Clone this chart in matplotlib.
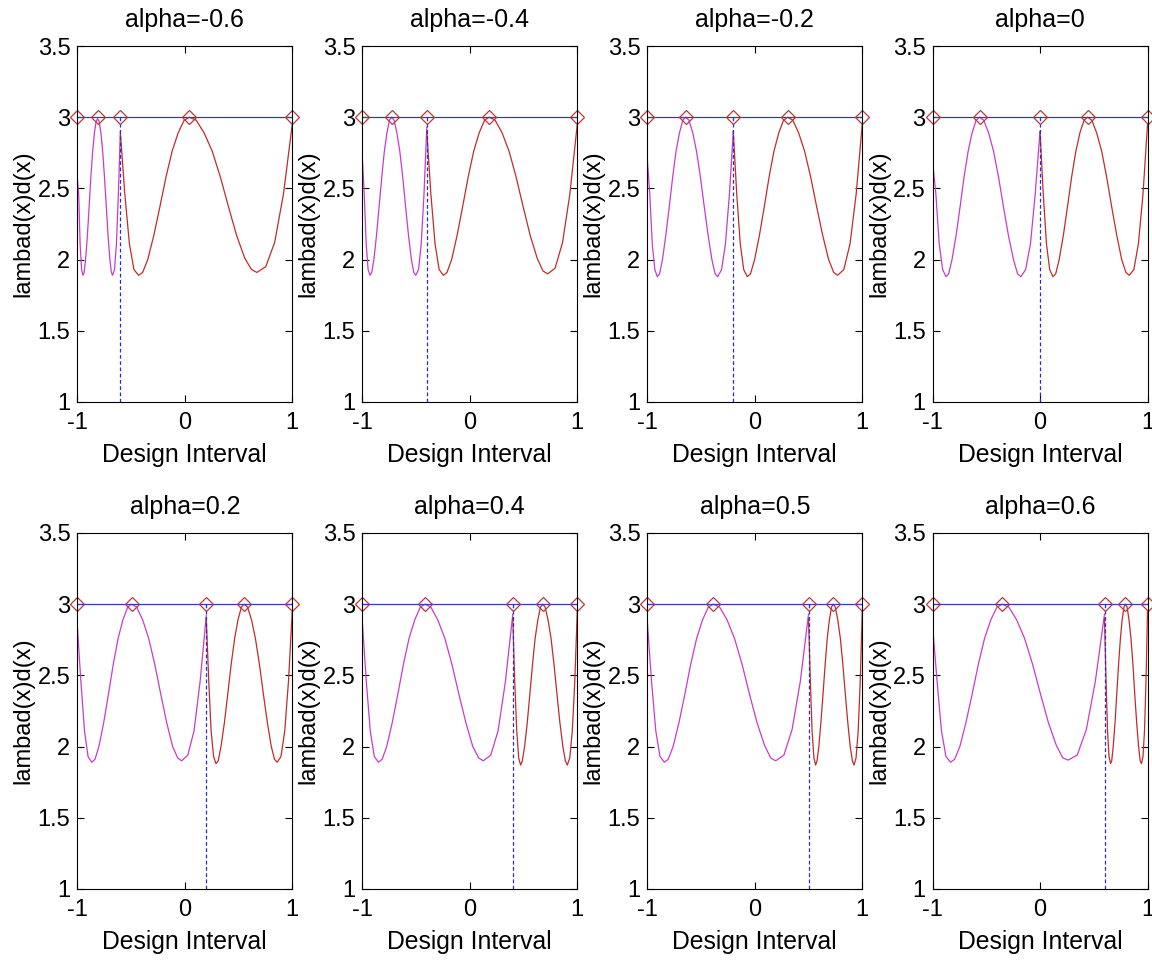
import matplotlib
matplotlib.use("Agg")
import matplotlib.pyplot as plt

plt.rcParams['font.family'] = ['Liberation Sans', 'DejaVu Sans']

# split points for each panel
alphas = [-0.6, -0.4, -0.2, 0, 0.2, 0.4, 0.5, 0.6]
titles = ["alpha=-0.6", "alpha=-0.4", "alpha=-0.2", "alpha=0",
          "alpha=0.2", "alpha=0.4", "alpha=0.5", "alpha=0.6"]

# interior support points of the two designs
left_support = [-0.811, -0.727, -0.643, -0.563, -0.494, -0.417, -0.386, -0.352]
right_support = [0.042, 0.181, 0.306, 0.442, 0.553, 0.678, 0.730, 0.795]

bound_level = 3.0
x_range = [-1, 1]
y_floor = 1.0

# magenta curve (left design on [-1, alpha])
mag_x = [
    [-1, -0.987, -0.974, -0.960, -0.947, -0.936, -0.923, -0.906, -0.890, -0.874, -0.857, -0.841, -0.825, -0.811,
     -0.797, -0.780, -0.764, -0.747, -0.730, -0.714, -0.697, -0.683, -0.672, -0.654, -0.636, -0.618, -0.6],
    [-1, -0.982, -0.964, -0.946, -0.928, -0.912, -0.892, -0.868, -0.844, -0.819, -0.795, -0.771, -0.747, -0.727,
     -0.705, -0.678, -0.651, -0.624, -0.597, -0.570, -0.543, -0.521, -0.503, -0.477, -0.452, -0.426, -0.4],
    [-1, -0.977, -0.954, -0.930, -0.907, -0.886, -0.859, -0.828, -0.796, -0.764, -0.733, -0.701, -0.669, -0.643,
     -0.613, -0.577, -0.542, -0.506, -0.470, -0.434, -0.399, -0.369, -0.345, -0.309, -0.273, -0.236, -0.2],
    [-1, -0.969, -0.938, -0.906, -0.875, -0.850, -0.819, -0.781, -0.744, -0.707, -0.669, -0.632, -0.594, -0.563,
     -0.525, -0.478, -0.432, -0.386, -0.340, -0.294, -0.247, -0.209, -0.178, -0.134, -0.089, -0.045, 0.0],
    [-1, -0.967, -0.933, -0.900, -0.866, -0.836, -0.799, -0.754, -0.710, -0.665, -0.620, -0.576, -0.531, -0.494,
     -0.448, -0.392, -0.336, -0.280, -0.224, -0.169, -0.113, -0.066, -0.029, 0.028, 0.086, 0.143, 0.2],
    [-1, -0.963, -0.926, -0.888, -0.851, -0.816, -0.773, -0.721, -0.669, -0.617, -0.565, -0.512, -0.460, -0.417,
     -0.363, -0.298, -0.232, -0.167, -0.102, -0.037, 0.028, 0.083, 0.126, 0.195, 0.263, 0.332, 0.4],
    [-1, -0.961, -0.921, -0.882, -0.842, -0.806, -0.760, -0.705, -0.650, -0.596, -0.541, -0.486, -0.432, -0.386,
     -0.328, -0.258, -0.189, -0.119, -0.050, 0.020, 0.090, 0.148, 0.194, 0.271, 0.347, 0.424, 0.5],
    [-1, -0.958, -0.917, -0.875, -0.833, -0.795, -0.746, -0.689, -0.631, -0.573, -0.516, -0.458, -0.400, -0.352,
     -0.291, -0.217, -0.144, -0.070, 0.004, 0.077, 0.151, 0.212, 0.261, 0.346, 0.431, 0.515, 0.6],
]
mag_y = [
    [2.57, 2.46, 2.11, 1.93, 1.89, 1.91, 2.00, 2.17, 2.37, 2.58, 2.76, 2.89, 2.97, 2.99,
     2.97, 2.89, 2.76, 2.58, 2.37, 2.17, 2.00, 1.91, 1.89, 1.93, 2.11, 2.46, 2.88],
    [2.72, 2.46, 2.11, 1.93, 1.89, 1.91, 2.00, 2.17, 2.37, 2.58, 2.76, 2.89, 2.98, 3.0,
     2.98, 2.89, 2.76, 2.58, 2.37, 2.17, 2.00, 1.91, 1.89, 1.93, 2.11, 2.46, 2.93],
    [2.70, 2.46, 2.11, 1.93, 1.88, 1.90, 2.00, 2.17, 2.37, 2.58, 2.76, 2.89, 2.98, 3.0,
     2.98, 2.89, 2.76, 2.58, 2.37, 2.17, 2.00, 1.90, 1.88, 1.93, 2.11, 2.46, 2.90],
    [2.69, 2.46, 2.11, 1.93, 1.88, 1.90, 2.00, 2.17, 2.37, 2.58, 2.76, 2.89, 2.98, 3.0,
     2.98, 2.89, 2.76, 2.58, 2.37, 2.17, 2.00, 1.90, 1.88, 1.93, 2.11, 2.46, 2.90],
    [2.85, 2.46, 2.11, 1.93, 1.89, 1.91, 2.00, 2.17, 2.37, 2.58, 2.76, 2.89, 2.98, 3.0,
     2.98, 2.89, 2.76, 2.58, 2.37, 2.17, 2.00, 1.92, 1.90, 1.94, 2.11, 2.46, 2.92],
    [2.88, 2.46, 2.11, 1.93, 1.89, 1.91, 2.00, 2.17, 2.37, 2.58, 2.76, 2.89, 2.98, 3.0,
     2.98, 2.89, 2.76, 2.58, 2.37, 2.17, 2.00, 1.92, 1.90, 1.94, 2.11, 2.46, 2.93],
    [2.88, 2.46, 2.11, 1.93, 1.89, 1.91, 2.00, 2.17, 2.37, 2.58, 2.76, 2.89, 2.98, 3.0,
     2.98, 2.89, 2.76, 2.58, 2.37, 2.17, 2.01, 1.92, 1.90, 1.94, 2.12, 2.46, 2.93],
    [2.85, 2.46, 2.11, 1.93, 1.89, 1.91, 2.00, 2.17, 2.37, 2.58, 2.76, 2.89, 2.98, 3.0,
     2.98, 2.89, 2.76, 2.58, 2.37, 2.17, 2.01, 1.92, 1.905, 1.94, 2.12, 2.46, 2.93],
]

# red curve (right design on [alpha, 1])
red_x = [
    [-0.6, -0.558, -0.515, -0.473, -0.430, -0.392, -0.345, -0.288, -0.232, -0.175, -0.118, -0.062, -0.005, 0.042,
     0.105, 0.180, 0.256, 0.331, 0.407, 0.482, 0.558, 0.621, 0.671, 0.753, 0.836, 0.918, 1.0],
    [-0.4, -0.362, -0.323, -0.285, -0.246, -0.212, -0.169, -0.118, -0.067, -0.015, 0.036, 0.087, 0.138, 0.181,
     0.235, 0.301, 0.366, 0.431, 0.497, 0.562, 0.627, 0.681, 0.725, 0.794, 0.863, 0.931, 1.0],
    [-0.2, -0.168, -0.135, -0.103, -0.070, -0.040, -0.002, 0.043, 0.088, 0.133, 0.178, 0.223, 0.268, 0.306,
     0.353, 0.408, 0.464, 0.520, 0.576, 0.632, 0.687, 0.734, 0.771, 0.828, 0.886, 0.943, 1.0],
    [0.0, 0.030, 0.060, 0.090, 0.120, 0.146, 0.178, 0.217, 0.255, 0.294, 0.333, 0.371, 0.410, 0.442,
     0.481, 0.527, 0.574, 0.620, 0.667, 0.714, 0.760, 0.799, 0.830, 0.873, 0.915, 0.958, 1.0],
    [0.2, 0.223, 0.245, 0.268, 0.290, 0.311, 0.337, 0.369, 0.400, 0.432, 0.464, 0.495, 0.527, 0.553,
     0.584, 0.621, 0.657, 0.694, 0.731, 0.768, 0.805, 0.835, 0.860, 0.895, 0.930, 0.965, 1.0],
    [0.4, 0.418, 0.437, 0.455, 0.473, 0.489, 0.510, 0.535, 0.559, 0.584, 0.608, 0.633, 0.658, 0.678,
     0.701, 0.728, 0.756, 0.783, 0.811, 0.838, 0.866, 0.889, 0.907, 0.930, 0.954, 0.977, 1.0],
    [0.5, 0.517, 0.533, 0.550, 0.566, 0.579, 0.596, 0.615, 0.635, 0.655, 0.674, 0.694, 0.714, 0.730,
     0.749, 0.772, 0.796, 0.819, 0.842, 0.865, 0.888, 0.908, 0.923, 0.942, 0.962, 0.981, 1.0],
    [0.6, 0.614, 0.628, 0.642, 0.656, 0.667, 0.681, 0.698, 0.714, 0.731, 0.748, 0.764, 0.781, 0.795,
     0.810, 0.828, 0.846, 0.864, 0.881, 0.899, 0.917, 0.932, 0.944, 0.958, 0.972, 0.986, 1.0],
]
red_y = [
    [2.90, 2.46, 2.11, 1.93, 1.89, 1.91, 2.00, 2.17, 2.37, 2.58, 2.76, 2.89, 2.98, 3.0,
     2.98, 2.89, 2.76, 2.58, 2.37, 2.17, 2.01, 1.93, 1.91, 1.95, 2.12, 2.46, 2.95],
    [2.90, 2.46, 2.11, 1.93, 1.89, 1.91, 2.00, 2.17, 2.37, 2.58, 2.76, 2.89, 2.98, 3.0,
     2.98, 2.89, 2.76, 2.58, 2.37, 2.17, 2.01, 1.92, 1.90, 1.94, 2.12, 2.46, 2.95],
    [2.90, 2.46, 2.11, 1.93, 1.88, 1.90, 2.00, 2.17, 2.37, 2.58, 2.76, 2.89, 2.98, 3.0,
     2.98, 2.89, 2.76, 2.58, 2.37, 2.17, 2.00, 1.91, 1.89, 1.93, 2.11, 2.46, 2.95],
    [2.90, 2.46, 2.11, 1.93, 1.88, 1.90, 2.00, 2.17, 2.37, 2.58, 2.76, 2.89, 2.98, 3.0,
     2.98, 2.89, 2.76, 2.58, 2.37, 2.17, 2.00, 1.91, 1.89, 1.93, 2.11, 2.46, 2.95],
    [2.90, 2.46, 2.11, 1.93, 1.88, 1.90, 2.00, 2.17, 2.37, 2.58, 2.76, 2.89, 2.98, 3.0,
     2.98, 2.89, 2.76, 2.58, 2.37, 2.17, 2.00, 1.91, 1.89, 1.93, 2.11, 2.46, 2.95],
    [2.90, 2.46, 2.11, 1.92, 1.87, 1.90, 2.00, 2.17, 2.37, 2.58, 2.76, 2.89, 2.98, 3.0,
     2.98, 2.89, 2.76, 2.58, 2.37, 2.17, 2.00, 1.90, 1.87, 1.92, 2.11, 2.46, 2.95],
    [2.90, 2.46, 2.11, 1.92, 1.87, 1.90, 2.00, 2.17, 2.37, 2.58, 2.76, 2.89, 2.98, 3.0,
     2.98, 2.89, 2.76, 2.58, 2.37, 2.17, 2.00, 1.90, 1.87, 1.92, 2.11, 2.46, 2.95],
    [2.90, 2.46, 2.11, 1.93, 1.88, 1.90, 2.00, 2.17, 2.37, 2.58, 2.76, 2.89, 2.98, 3.0,
     2.98, 2.89, 2.76, 2.58, 2.37, 2.17, 2.00, 1.90, 1.88, 1.93, 2.11, 2.46, 2.95],
]

MAGENTA = '#c83cc8'
RED = '#c02c2c'
BLUE = '#3838c0'
DIAMOND = '#b83a3a'

fig = plt.figure(figsize=(11.52, 9.6), dpi=100)

col_left = [0.0671, 0.3145, 0.5619, 0.8095]
row_bottom = [0.58125, 0.0740]
ax_w = 0.1866
ax_h = 0.3708
fs = 17

for i, alpha in enumerate(alphas):
    row, col = divmod(i, 4)
    ax = fig.add_axes([col_left[col], row_bottom[row], ax_w, ax_h])

    ax.plot(mag_x[i], mag_y[i], color=MAGENTA, lw=0.9)
    ax.plot(red_x[i], red_y[i], color=RED, lw=0.9)
    ax.plot(x_range, [bound_level, bound_level], color=BLUE, lw=0.9)
    ax.plot([alpha, alpha], [y_floor, bound_level], color='#2a2ad8', lw=0.9,
            ls='--', dashes=(3, 2))

    pts = [x_range[0], left_support[i], alpha, right_support[i], x_range[1]]
    ax.plot(pts, [bound_level] * len(pts), ls='none', marker='D', ms=6.8,
            mfc='none', mec=DIAMOND, mew=0.9, clip_on=False)

    ax.set_xlim(-1, 1)
    ax.set_ylim(1, 3.5)
    ax.set_xticks([-1, 0, 1])
    ax.set_xticklabels(['-1', '0', '1'])
    ax.set_yticks([1, 1.5, 2, 2.5, 3, 3.5])
    ax.set_yticklabels(['1', '1.5', '2', '2.5', '3', '3.5'])
    ax.tick_params(direction='in', top=True, right=True, length=5, width=0.8,
                   labelsize=fs)
    ax.tick_params(axis='x', pad=7)
    ax.tick_params(axis='y', pad=5)
    for s in ax.spines.values():
        s.set_linewidth(0.8)

    ax.set_title(titles[i], fontsize=18, pad=14)
    ax.set_xlabel("Design Interval", fontsize=17.8, labelpad=7)
    ax.set_ylabel("lambad(x)d(x)", fontsize=fs, labelpad=2)

fig.savefig("out.png", dpi=100)
